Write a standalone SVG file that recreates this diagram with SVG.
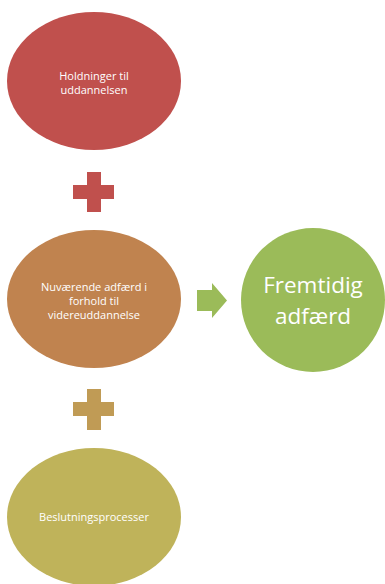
<svg xmlns="http://www.w3.org/2000/svg" width="385" height="584" viewBox="0 0 385 584">
<style>
text{font-family:"Open Sans","Liberation Sans",sans-serif;fill:#fff;text-anchor:middle}
.s{font-size:11px}
.l{font-size:22.5px}
</style>
<rect width="385" height="584" fill="#fff"/>
<g id="n1">
<ellipse cx="94" cy="81" rx="87" ry="69" fill="#C0504D"/>
<text class="s" x="94" y="80">Holdninger til</text>
<text class="s" x="94" y="94">uddannelsen</text>
</g>
<g id="plus1">
<path d="M87 172h14v13h13v14h-13v13h-14v-13h-14v-14h14z" fill="#C0504D"/>
</g>
<g id="n2">
<ellipse cx="94" cy="299" rx="87" ry="69" fill="#C0834F"/>
<text class="s" x="94" y="291">Nuværende adfærd i</text>
<text class="s" x="94" y="305">forhold til</text>
<text class="s" x="94" y="319">videreuddannelse</text>
</g>
<g id="plus2">
<path d="M87 389h14v13h13v14h-13v14h-14v-14h-14v-14h14z" fill="#C09B55"/>
</g>
<g id="n3">
<ellipse cx="94" cy="517" rx="87" ry="69" fill="#BFB35A"/>
<text class="s" x="94" y="521">Beslutningsprocesser</text>
</g>
<g id="connectors">
<path d="M197 290h15v-7l15 17.5-15 17.5v-7h-15z" fill="#9BBB59"/>
</g>
<g id="n4">
<circle cx="313" cy="300" r="72" fill="#9BBB59"/>
<text class="l" x="313" y="293">Fremtidig</text>
<text class="l" x="313" y="324">adfærd</text>
</g>
</svg>
